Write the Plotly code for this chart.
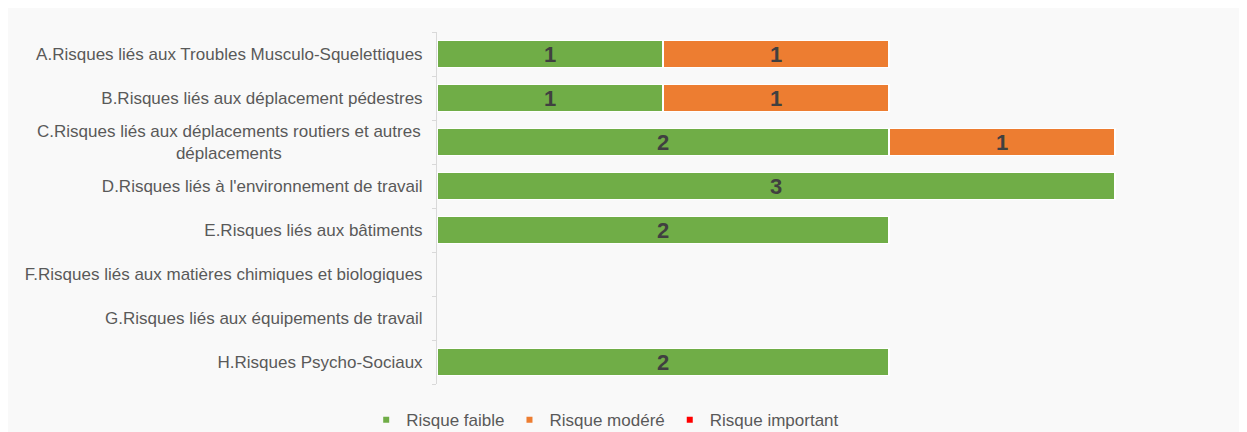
import plotly.graph_objects as go

categories = [
    "A.Risques liés aux Troubles Musculo-Squelettiques",
    "B.Risques liés aux déplacement pédestres",
    "C.Risques liés aux déplacements routiers et autres<br>déplacements",
    "D.Risques liés à l'environnement de travail",
    "E.Risques liés aux bâtiments",
    "F.Risques liés aux matières chimiques et biologiques",
    "G.Risques liés aux équipements de travail",
    "H.Risques Psycho-Sociaux",
]
faible = [1, 1, 2, 3, 2, 0, 0, 2]
modere = [1, 1, 1, 0, 0, 0, 0, 0]
important = [0, 0, 0, 0, 0, 0, 0, 0]

series = [
    ("Risque faible", faible, "#70AD47"),
    ("Risque modéré", modere, "#ED7D31"),
    ("Risque important", important, "#FF0000"),
]

ids = [c.split(".")[0] for c in categories]
ticktext = [c if "<br>" not in c else "" for c in categories]

FONT = "Liberation Sans, Arial"
fig = go.Figure()
for name, vals, color in series:
    fig.add_trace(go.Bar(
        y=ids, x=[v if v else None for v in vals], orientation="h", name=name,
        marker=dict(color=color, line=dict(color="white", width=1.5)),
        text=[str(v) if v else "" for v in vals],
        textposition="inside", insidetextanchor="middle", textangle=0,
        constraintext="none",
        textfont=dict(family=FONT, size=22, color="#404040", weight="bold"),
        width=0.62, showlegend=False,
    ))
for name, vals, color in series:
    fig.add_trace(go.Scatter(
        x=[None], y=[None], mode="markers", name=name,
        marker=dict(symbol="square", size=6, color=color), showlegend=True,
    ))

W, H = 1239, 424
L, R, T, B = 429, 21, 24, 48
fig.update_layout(
    width=W, height=H,
    margin=dict(l=L, r=R, t=T, b=B),
    barmode="stack",
    paper_bgcolor="white", plot_bgcolor="rgba(0,0,0,0)",
    font=dict(family=FONT, size=17, color="#595959"),
    showlegend=True,
    legend=dict(orientation="h", xref="container", yref="container", x=0.482, y=0.028,
                xanchor="center", yanchor="middle", traceorder="normal",
                bgcolor="rgba(0,0,0,0)", font=dict(size=17, color="#595959"),
                itemwidth=30, tracegroupgap=0),
    xaxis=dict(range=[0, 3.49], visible=False),
    yaxis=dict(type="category", autorange="reversed", tickvals=ids, ticktext=ticktext,
               showline=True, linecolor="#d9d9d9", linewidth=1, ticks="outside",
               tickson="boundaries", ticklen=4, tickcolor="#d9d9d9", showgrid=False,
               ticklabelstandoff=10, tickfont=dict(size=17, color="#595959")),
)
pw = W - L - R
ph = H - T - B
fig.add_shape(type="rect", xref="paper", yref="paper", layer="below",
              x0=-L / pw, x1=(W - L) / pw, y0=-B / ph, y1=1 + T / ph,
              fillcolor="#f9f9f9", line=dict(width=0))
for c, i in zip(categories, ids):
    if "<br>" in c:
        fig.add_annotation(x=0, xref="paper", y=i, yref="y", text=c, showarrow=False,
                           xanchor="right", xshift=-14, align="center",
                           font=dict(size=17, color="#595959"))

fig.write_html("out.html")
